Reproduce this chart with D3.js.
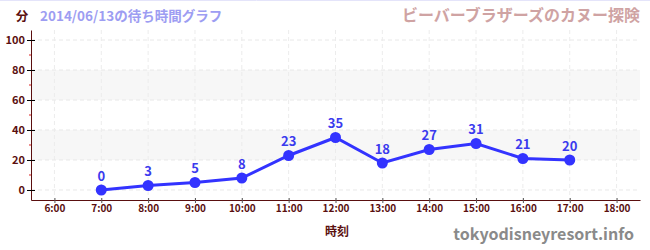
<!DOCTYPE html>
<html>
<head>
<meta charset="utf-8">
<script src="https://cdn.jsdelivr.net/npm/d3@7"></script>
<style>
  body { margin: 0; background: #fff; }
  text { font-family: "Noto Sans CJK JP", "Noto Sans", sans-serif; font-weight: bold; }
</style>
</head>
<body>
<div id="chart"></div>
<script>
// wait times per hour
const hours = [7, 8, 9, 10, 11, 12, 13, 14, 15, 16, 17];
const waits = [0, 3, 5, 8, 23, 35, 18, 27, 31, 21, 20];
const xTicks = [6, 7, 8, 9, 10, 11, 12, 13, 14, 15, 16, 17, 18];
const yTicks = [0, 20, 40, 60, 80, 100];
const yMinor = [10, 30, 50, 70, 90];
const bands = [[20, 40], [60, 80]];

const width = 650, height = 250;
const plotLeft = 31, plotRight = 640, plotTop = 30, plotBottom = 200;

const svg = d3.select('#chart').append('svg')
    .attr('width', width)
    .attr('height', height);

const x = d3.scaleLinear().domain([5.5, 18.5]).range([plotLeft, plotRight]);
const y = d3.scaleLinear().domain([-6.67, 106.67]).range([plotBottom, plotTop]);

// top border
svg.append('line')
    .attr('x1', 0).attr('x2', width).attr('y1', 0.5).attr('y2', 0.5)
    .attr('stroke', '#e4e4fa');

// bands
svg.selectAll('rect.band')
    .data(bands)
    .join('rect')
    .attr('class', 'band')
    .attr('x', plotLeft)
    .attr('width', plotRight - plotLeft)
    .attr('y', d => y(d[1]))
    .attr('height', d => y(d[0]) - y(d[1]))
    .attr('fill', '#f7f7f7');

// grid
svg.append('g')
    .selectAll('line')
    .data(yTicks)
    .join('line')
    .attr('x1', plotLeft).attr('x2', plotRight)
    .attr('y1', d => y(d)).attr('y2', d => y(d))
    .attr('stroke', '#e8e8e8')
    .attr('stroke-dasharray', '4,3');

svg.append('g')
    .selectAll('line')
    .data(xTicks)
    .join('line')
    .attr('x1', d => x(d)).attr('x2', d => x(d))
    .attr('y1', plotTop).attr('y2', plotBottom)
    .attr('stroke', '#ececec')
    .attr('stroke-dasharray', '4,3');

// y axis
const yAxis = svg.append('g')
    .attr('transform', `translate(${plotLeft},0)`)
    .call(d3.axisLeft(y).tickValues(yTicks).tickSize(4).tickSizeOuter(0));
yAxis.select('.domain').attr('stroke', '#5a0f0f');
yAxis.selectAll('.tick line').attr('stroke', '#000').attr('x2', 4).attr('x1', -4);
yAxis.selectAll('.tick text')
    .attr('fill', '#5a0f0f')
    .attr('font-size', 11)
    .attr('x', -6)
    .attr('font-family', '"Noto Sans CJK JP", sans-serif')
    .attr('font-weight', 'bold');

svg.append('g')
    .selectAll('line')
    .data(yMinor)
    .join('line')
    .attr('x1', plotLeft - 2).attr('x2', plotLeft)
    .attr('y1', d => y(d)).attr('y2', d => y(d))
    .attr('stroke', '#dd2222');

// x axis
const xAxis = svg.append('g')
    .attr('transform', `translate(0,${plotBottom})`)
    .call(d3.axisBottom(x).tickValues(xTicks).tickFormat(d => d + ':00').tickSize(3).tickSizeOuter(0));
xAxis.select('.domain').attr('stroke', '#5a0f0f');
xAxis.selectAll('.tick line').attr('stroke', '#555').attr('y1', -2).attr('y2', 3);
xAxis.selectAll('.tick text')
    .attr('fill', '#5a0f0f')
    .attr('font-size', 10)
    .attr('y', 5)
    .attr('font-family', '"Noto Sans CJK JP", sans-serif')
    .attr('font-weight', 'bold');

// line
const line = d3.line()
    .x((d, i) => x(hours[i]))
    .y(d => y(d));

svg.append('path')
    .datum(waits)
    .attr('d', line)
    .attr('fill', 'none')
    .attr('stroke', '#3333ff')
    .attr('stroke-width', 3);

svg.selectAll('circle.pt')
    .data(waits)
    .join('circle')
    .attr('class', 'pt')
    .attr('cx', (d, i) => x(hours[i]))
    .attr('cy', d => y(d))
    .attr('r', 5.5)
    .attr('fill', '#3333ff');

svg.selectAll('text.val')
    .data(waits)
    .join('text')
    .attr('class', 'val')
    .attr('x', (d, i) => x(hours[i]))
    .attr('y', d => y(d) - 9)
    .attr('text-anchor', 'middle')
    .attr('font-size', 13)
    .attr('fill', '#3b3bee')
    .text(d => d);

// titles
svg.append('text')
    .attr('x', 22).attr('y', 21)
    .attr('text-anchor', 'middle')
    .attr('font-size', 12.5)
    .attr('fill', '#5a0f0f')
    .text('分');

svg.append('text')
    .attr('x', 40).attr('y', 21)
    .attr('font-size', 13.5)
    .attr('fill', '#9d9df2')
    .text('2014/06/13の待ち時間グラフ');

svg.append('text')
    .attr('x', 640).attr('y', 21)
    .attr('text-anchor', 'end')
    .attr('font-size', 16)
    .attr('fill', '#cfa3a3')
    .text('ビーバーブラザーズのカヌー探険');

svg.append('text')
    .attr('x', 337).attr('y', 236)
    .attr('text-anchor', 'middle')
    .attr('font-size', 12)
    .attr('fill', '#5a0f0f')
    .text('時刻');

svg.append('text')
    .attr('x', 634).attr('y', 240)
    .attr('text-anchor', 'end')
    .attr('font-size', 16)
    .attr('fill', '#8a8a8a')
    .text('tokyodisneyresort.info');
</script>
</body>
</html>
